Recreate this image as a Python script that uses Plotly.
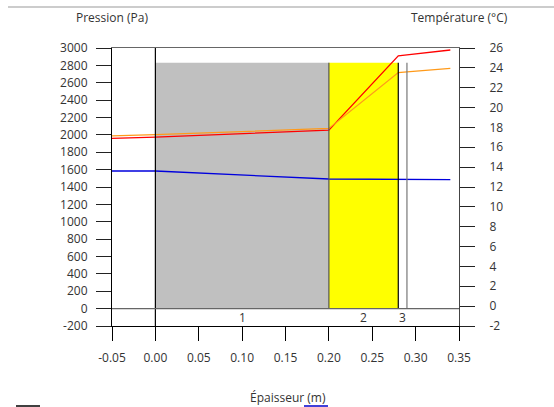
import plotly.graph_objects as go

# ---- data ----
x_pts = [-0.05, 0.0, 0.20, 0.28, 0.29, 0.34]
temperature = [17.15, 17.27, 17.90, 23.53, 23.60, 23.94]      # °C, right axis (orange)
p_sat = [1960, 1973, 2054, 2910, 2920, 2977]                  # Pa, left axis (red)
p_vap = [1584, 1584, 1492, 1486, 1485, 1484]                  # Pa, left axis (blue)

layer_names = ["1", "2", "3"]
layer_start = [0.0, 0.20, 0.28]
layer_end = [0.20, 0.28, 0.29]
layer_colors = ["#c0c0c0", "#ffff00", "#ffffff"]
layer_edge_colors = ["#555555", "#000000", "#777777"]
layer_height = 2830

x_ticks = [-0.05, 0.0, 0.05, 0.10, 0.15, 0.20, 0.25, 0.30, 0.35]
x_labels = ["-0.05", "0.00", "0.05", "0.10", "0.15", "0.20", "0.25", "0.30", "0.35"]
y_ticks = list(range(-200, 3001, 200))
y_labels = [str(v) for v in y_ticks]
y2_ticks = list(range(-2, 27, 2))
y2_labels = [str(v) for v in y2_ticks]

FONT = "Open Sans"
TXT = "#333333"

fig = go.Figure()

# layers
shapes = []
for s, e, c in zip(layer_start, layer_end, layer_colors):
    shapes.append(dict(type="rect", xref="x", yref="y", x0=s, x1=e, y0=0, y1=layer_height,
                       fillcolor=c, line=dict(width=0), layer="below"))
for e, lc in zip(layer_end, layer_edge_colors):
    shapes.append(dict(type="line", xref="x", yref="y", x0=e, x1=e, y0=0, y1=layer_height,
                       line=dict(color=lc, width=1.2)))
# wall face line (full height)
shapes.append(dict(type="line", xref="x", yref="paper", x0=0, x1=0, y0=0, y1=1,
                   line=dict(color="#000000", width=1.2)))
# zero line
shapes.append(dict(type="line", xref="paper", yref="y", x0=0, x1=1, y0=0, y1=0,
                   line=dict(color="#666666", width=1.2)))
# page top line
shapes.append(dict(type="line", xref="paper", yref="paper", x0=(8-112)/347, x1=(554-112)/347,
                   y0=(326-7)/278, y1=(326-7)/278, line=dict(color="#cccccc", width=2)))
# legend stubs at bottom
shapes.append(dict(type="line", xref="paper", yref="paper", x0=(16-112)/347, x1=(40-112)/347,
                   y0=(326-406)/278, y1=(326-406)/278, line=dict(color="#000000", width=1.5)))
shapes.append(dict(type="line", xref="paper", yref="paper", x0=(304-112)/347, x1=(328-112)/347,
                   y0=(326-406)/278, y1=(326-406)/278, line=dict(color="#0000cc", width=1.5)))

fig.add_trace(go.Scatter(x=x_pts, y=p_vap, mode="lines", line=dict(color="#0000dd", width=1.3),
                         yaxis="y", showlegend=False, hoverinfo="skip"))
fig.add_trace(go.Scatter(x=x_pts, y=p_sat, mode="lines", line=dict(color="#ff0000", width=1.3),
                         yaxis="y", showlegend=False, hoverinfo="skip"))
fig.add_trace(go.Scatter(x=x_pts, y=temperature, mode="lines", line=dict(color="#ff9a1a", width=1.3),
                         yaxis="y2", showlegend=False, hoverinfo="skip"))

annotations = []
for name, s, e in zip(layer_names, layer_start, layer_end):
    annotations.append(dict(x=(s + e) / 2, y=-100, xref="x", yref="y", text=name, showarrow=False,
                            yanchor="middle", font=dict(family=FONT, size=12, color=TXT)))
annotations.append(dict(x=0, y=(326-17)/278, xref="paper", yref="paper", text="Pression (Pa)",
                        showarrow=False, xanchor="center", yanchor="middle",
                        font=dict(family=FONT, size=12, color=TXT)))
annotations.append(dict(x=1, y=(326-17)/278, xref="paper", yref="paper", text="Température (°C)",
                        showarrow=False, xanchor="center", yanchor="middle",
                        font=dict(family=FONT, size=12, color=TXT)))
annotations.append(dict(x=(288-112)/347, y=(326-397)/278, xref="paper", yref="paper", text="Épaisseur (m)",
                        showarrow=False, xanchor="center", yanchor="middle",
                        font=dict(family=FONT, size=12, color=TXT)))

fig.update_layout(
    width=554, height=407,
    margin=dict(l=112, r=95, t=48, b=81, pad=0),
    paper_bgcolor="white", plot_bgcolor="white",
    showlegend=False,
    shapes=shapes, annotations=annotations,
    font=dict(family=FONT, size=12, color=TXT),
    xaxis=dict(range=[-0.05, 0.35], tickvals=x_ticks, ticktext=x_labels, ticks="outside", ticklen=14,
               tickcolor="#000000", showline=True, linecolor="#000000", linewidth=1.2, mirror=False,
               showgrid=False, zeroline=False, ticklabelstandoff=6),
    xaxis2=dict(range=[-0.05, 0.35], overlaying="x", side="top", showline=True, linecolor="#666666",
                linewidth=1.2, showticklabels=False, ticks="", showgrid=False, zeroline=False),
    yaxis=dict(range=[-200, 3000], tickvals=y_ticks, ticktext=y_labels, ticks="outside", ticklen=15,
               tickcolor="#222222", showline=True, linecolor="#000000", linewidth=1.2, showgrid=False,
               zeroline=False, ticklabelstandoff=6),
    yaxis2=dict(range=[-2, 26], tickvals=y2_ticks, ticktext=y2_labels, ticks="outside", ticklen=15,
                tickcolor="#222222", overlaying="y", side="right", showline=True, linecolor="#444444",
                linewidth=1.2, showgrid=False, zeroline=False, ticklabelstandoff=12),
)
# dummy trace to show top axis line
fig.add_trace(go.Scatter(x=[None], y=[None], xaxis="x2", showlegend=False))

fig.write_html("out.html")
